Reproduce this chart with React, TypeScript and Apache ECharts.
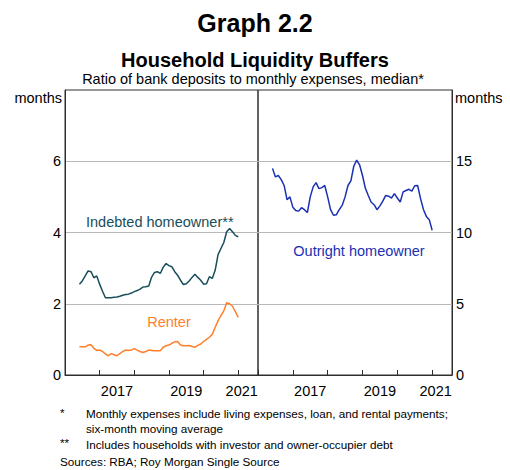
import React, { useEffect, useRef } from 'react';
import * as echarts from 'echarts';

// ---- Data (monthly, June 2016 to January 2021) ----
const START_YEAR = 2016;
const FIRST_MONTH_OFFSET = 5; // June 2016 (months after January 2016)

// Left panel, months
const indebtedHomeowner = [
  2.55, 2.64, 2.78, 2.92, 2.9, 2.73, 2.78, 2.55, 2.35, 2.17,
  2.17, 2.17, 2.18, 2.19, 2.21, 2.24, 2.26, 2.27, 2.3, 2.34,
  2.37, 2.41, 2.47, 2.48, 2.5, 2.75, 2.88, 2.9, 2.85, 3.02,
  3.13, 3.07, 3.04, 2.9, 2.8, 2.66, 2.54, 2.56, 2.64, 2.74,
  2.83, 2.74, 2.66, 2.55, 2.56, 2.76, 2.71, 2.94, 3.38, 3.55,
  3.72, 4.02, 4.11, 4.02, 3.92, 3.88,
];
const renter = [
  0.79, 0.79, 0.79, 0.84, 0.85, 0.75, 0.69, 0.7, 0.66, 0.59,
  0.54, 0.6, 0.57, 0.54, 0.6, 0.66, 0.7, 0.69, 0.7, 0.74,
  0.7, 0.66, 0.63, 0.66, 0.7, 0.69, 0.68, 0.68, 0.68, 0.78,
  0.82, 0.84, 0.89, 0.93, 0.94, 0.84, 0.82, 0.82, 0.83, 0.8,
  0.78, 0.83, 0.87, 0.94, 1.0, 1.06, 1.14, 1.34, 1.52, 1.67,
  1.8, 2.03, 2.0, 1.93, 1.78, 1.62,
];
// Right panel, months
const outrightHomeowner = [
  14.5, 13.9, 14.0, 13.71, 13.3, 12.3, 12.5, 11.78, 11.55, 11.5,
  11.74, 11.6, 11.4, 12.5, 13.2, 13.5, 13.08, 13.15, 13.3, 12.5,
  11.6, 11.21, 11.25, 11.6, 11.9, 12.5, 13.3, 13.62, 14.65, 15.08,
  14.75, 14.0, 13.1, 12.6, 12.12, 11.95, 11.6, 11.87, 12.2, 12.6,
  12.55, 12.42, 12.73, 12.42, 12.14, 12.85, 12.95, 13.03, 12.9, 13.28,
  13.3, 12.38, 11.62, 11.13, 10.9, 10.16,
];

// Axis settings / tick labels
const X_MIN = 2016;
const X_MAX = 2021.57;
const LEFT_Y = { min: 0, max: 8, interval: 2 };
const RIGHT_Y = { min: 0, max: 20, interval: 5 };
// year labels keyed by position (tenths of a year)
const yearLabels: Record<number, string> = { 20175: '2017', 20195: '2019', 20211: '2021' };

const TITLE = 'Graph 2.2';
const SUBTITLE = 'Household Liquidity Buffers';
const UNITS_NOTE = 'Ratio of bank deposits to monthly expenses, median*';
const FOOTNOTE_1A = 'Monthly expenses include living expenses, loan, and rental payments;';
const FOOTNOTE_1B = 'six-month moving average';
const FOOTNOTE_2 = 'Includes households with investor and owner-occupier debt';
const SOURCES = 'Sources: RBA; Roy Morgan Single Source';

const FONT = '"Liberation Sans", Arial, Helvetica, sans-serif';
const FRAME = '#2e2e2e';
const GRIDLINE = '#b8b8b8';
const TEAL = '#184e5a';
const ORANGE = '#ff7f2a';
const BLUE = '#1a30b4';

function toPairs(vals: number[]) {
  return vals.map((v, i) => [START_YEAR + (FIRST_MONTH_OFFSET + i) / 12, v]);
}

function tickAxis(gridIndex: number) {
  return {
    type: 'value',
    gridIndex,
    min: X_MIN,
    max: X_MAX,
    interval: 1,
    position: 'bottom',
    axisLine: { show: true, onZero: false, lineStyle: { color: FRAME, width: 1 } },
    axisTick: { show: true, inside: true, length: 5, lineStyle: { color: FRAME, width: 1 } },
    axisLabel: { show: false },
    splitLine: { show: false },
  };
}

function labelAxis(gridIndex: number) {
  return {
    type: 'value',
    gridIndex,
    min: X_MIN,
    max: X_MAX,
    interval: 0.1,
    position: 'bottom',
    axisLine: { show: false, onZero: false },
    axisTick: { show: false },
    splitLine: { show: false },
    axisLabel: {
      show: true,
      margin: 8,
      fontSize: 14.5,
      color: '#000',
      fontFamily: FONT,
      showMinLabel: true,
      showMaxLabel: true,
      formatter: (v: number) => yearLabels[Math.round(v * 10)] ?? '',
    },
  };
}

function text(x: number, y: number, s: string, opts: any = {}) {
  return {
    type: 'text',
    x,
    y,
    silent: true,
    style: {
      text: s,
      fontFamily: FONT,
      fontSize: 14.5,
      fill: '#000',
      align: 'left',
      verticalAlign: 'middle',
      ...opts,
    },
  };
}

export default function App() {
  const ref = useRef<HTMLDivElement>(null);

  useEffect(() => {
    if (!ref.current) return;
    const chart = echarts.init(ref.current, undefined, { renderer: 'svg' });
    const yLabelStyle = { fontSize: 14.5, color: '#000', fontFamily: FONT };
    chart.setOption({
      animation: false,
      backgroundColor: '#fff',
      grid: [
        { left: 65, top: 90, width: 193, height: 285, show: true, borderColor: FRAME, borderWidth: 1, backgroundColor: 'transparent' },
        { left: 258, top: 90, width: 194, height: 285, show: true, borderColor: FRAME, borderWidth: 1, backgroundColor: 'transparent' },
      ],
      xAxis: [tickAxis(0), labelAxis(0), tickAxis(1), labelAxis(1)],
      yAxis: [
        {
          type: 'value',
          gridIndex: 0,
          position: 'left',
          ...LEFT_Y,
          name: 'months',
          nameLocation: 'end',
          nameGap: -8,
          nameTextStyle: { ...yLabelStyle, align: 'right', verticalAlign: 'middle', padding: [0, 3, 0, 0] },
          axisLine: { show: true, lineStyle: { color: FRAME } },
          axisTick: { show: false },
          axisLabel: { ...yLabelStyle, margin: 4, formatter: (v: number) => (v === LEFT_Y.max ? '' : String(v)) },
          splitLine: { show: true, showMinLine: false, showMaxLine: false, lineStyle: { color: GRIDLINE, width: 1 } },
        },
        {
          type: 'value',
          gridIndex: 1,
          position: 'right',
          ...RIGHT_Y,
          name: 'months',
          nameLocation: 'end',
          nameGap: -8,
          nameTextStyle: { ...yLabelStyle, align: 'left', verticalAlign: 'middle', padding: [0, 0, 0, 3] },
          axisLine: { show: true, lineStyle: { color: FRAME } },
          axisTick: { show: false },
          axisLabel: { ...yLabelStyle, margin: 4, formatter: (v: number) => (v === RIGHT_Y.max ? '' : String(v)) },
          splitLine: { show: true, showMinLine: false, showMaxLine: false, lineStyle: { color: GRIDLINE, width: 1 } },
        },
      ],
      series: [
        {
          type: 'line', name: 'Indebted homeowner', xAxisIndex: 0, yAxisIndex: 0,
          data: toPairs(indebtedHomeowner), showSymbol: false, lineStyle: { color: TEAL, width: 1.5 }, itemStyle: { color: TEAL }, z: 5,
        },
        {
          type: 'line', name: 'Renter', xAxisIndex: 0, yAxisIndex: 0,
          data: toPairs(renter), showSymbol: false, lineStyle: { color: ORANGE, width: 1.5 }, itemStyle: { color: ORANGE }, z: 5,
        },
        {
          type: 'line', name: 'Outright homeowner', xAxisIndex: 2, yAxisIndex: 1,
          data: toPairs(outrightHomeowner), showSymbol: false, lineStyle: { color: BLUE, width: 1.5 }, itemStyle: { color: BLUE }, z: 5,
        },
      ],
      graphic: [
        text(255, 23, TITLE, { align: 'center', fontSize: 25, fontWeight: 'bold' }),
        text(255, 60, SUBTITLE, { align: 'center', fontSize: 20, fontWeight: 'bold' }),
        text(253, 79, UNITS_NOTE, { align: 'center', fontSize: 14.5 }),
        text(86, 221.5, 'Indebted homeowner**', { fill: TEAL }),
        text(169, 322, 'Renter', { align: 'center', fill: ORANGE }),
        text(359, 251, 'Outright homeowner', { align: 'center', fill: BLUE }),
        text(60, 412, '*', { fontSize: 11.7 }),
        text(86, 413.5, FOOTNOTE_1A, { fontSize: 11.7 }),
        text(86, 428.5, FOOTNOTE_1B, { fontSize: 11.7 }),
        text(60, 442, '**', { fontSize: 11.7 }),
        text(86, 444.5, FOOTNOTE_2, { fontSize: 11.7 }),
        text(60, 461.5, SOURCES, { fontSize: 11.7 }),
      ],
    });
    return () => chart.dispose();
  }, []);

  return <div ref={ref} style={{ position: 'absolute', left: 0, top: 0, width: 510, height: 470 }} />;
}
